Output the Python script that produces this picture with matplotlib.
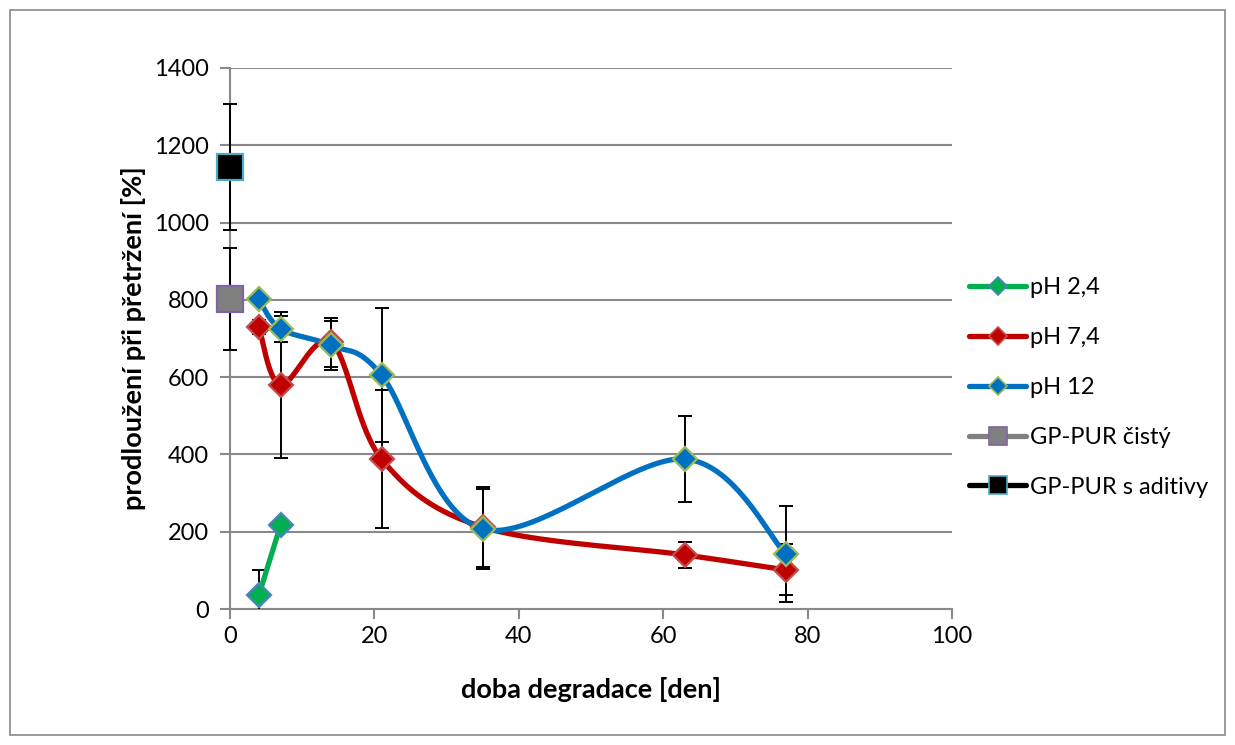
import numpy as np
import matplotlib
matplotlib.use("Agg")
import matplotlib.pyplot as plt
from matplotlib.lines import Line2D

plt.rcParams['font.family'] = ['Lato', 'DejaVu Sans']

# degradation time [days]
days_ph24 = [4, 7]
elong_ph24 = [36, 217]
err_ph24 = [65, 0]

days_ph74 = [4, 7, 14, 21, 35, 63, 77]
elong_ph74 = [730, 580, 690, 388, 212, 140, 101]
err_ph74 = [18, 189, 64, 178, 103, 33, 66]

days_ph12 = [4, 7, 14, 21, 35, 63, 77]
elong_ph12 = [802, 725, 682, 605, 207, 388, 142]
err_ph12 = [0, 34, 64, 174, 103, 111, 124]

pure_day = [0]
pure_val = [802]
pure_err = [133]

additive_day = [0]
additive_val = [1144]
additive_err = [163]

x_ticks = [0, 20, 40, 60, 80, 100]
y_ticks = [0, 200, 400, 600, 800, 1000, 1200, 1400]


def smooth(xs, ys, n=40):
    """Cubic Bezier smoothing through all points (Catmull-Rom style)."""
    p = np.column_stack([xs, ys]).astype(float)
    if len(p) < 3:
        return p[:, 0], p[:, 1]
    ext = np.vstack([p[0], p, p[-1]])
    out = []
    t = np.linspace(0, 1, n)[:, None]
    for i in range(len(p) - 1):
        p0, p1, p2, p3 = ext[i], ext[i + 1], ext[i + 2], ext[i + 3]
        c1 = p1 + (p2 - p0) / 6.0
        c2 = p2 - (p3 - p1) / 6.0
        seg = ((1 - t) ** 3) * p1 + 3 * ((1 - t) ** 2) * t * c1 + 3 * (1 - t) * t ** 2 * c2 + t ** 3 * p2
        out.append(seg if i == 0 else seg[1:])
    out = np.vstack(out)
    return out[:, 0], out[:, 1]


fig = plt.figure(figsize=(12.35, 7.45), dpi=100)
fig.patch.set_facecolor('white')
# outer chart border
fig.add_artist(plt.Rectangle((10 / 1235, 10 / 745), 1215 / 1235, 725 / 745,
                             transform=fig.transFigure, fill=False,
                             edgecolor='#898989', linewidth=1.2))

ax = fig.add_axes([230 / 1235, 1 - 609 / 745, 722 / 1235, 541 / 745])

grid_c = '#898989'
for y in y_ticks[1:]:
    ax.axhline(y, color=grid_c, linewidth=1.5, zorder=0)

ekw = dict(fmt='none', ecolor='black', elinewidth=1.4, capsize=5, capthick=1.4, zorder=2.7)
ax.errorbar(days_ph24, elong_ph24, yerr=err_ph24, **ekw)
ax.errorbar(days_ph74, elong_ph74, yerr=err_ph74, **ekw)
ax.errorbar(days_ph12, elong_ph12, yerr=err_ph12, **ekw)
for xs, ys, es in [(pure_day, pure_val, pure_err), (additive_day, additive_val, additive_err)]:
    eb = ax.errorbar(xs, ys, yerr=es, **ekw)
    for art in eb.lines[1] + eb.lines[2]:
        art.set_clip_on(False)

series = [
    (days_ph24, elong_ph24, '#00B050', '#00B050', '#4F81BD', 'D', 12.5, 'pH 2,4'),
    (days_ph74, elong_ph74, '#C00000', '#C00000', '#C0504D', 'D', 12.5, 'pH 7,4'),
    (days_ph12, elong_ph12, '#0070C0', '#0070C0', '#9BBB59', 'D', 12.5, 'pH 12'),
]
handles = []
for xs, ys, lc, fc, ec, mk, ms, lab in series:
    sx, sy = smooth(xs, ys)
    ax.plot(sx, sy, color=lc, linewidth=3.8, solid_capstyle='round', zorder=3)
    ax.plot(xs, ys, linestyle='none', marker=mk, markersize=ms, markerfacecolor=fc,
            markeredgecolor=ec, markeredgewidth=1.6, zorder=4)
    handles.append(Line2D([], [], color=lc, linewidth=3.8, marker=mk, markersize=9.5,
                          markerfacecolor=fc, markeredgecolor=ec, markeredgewidth=1.2,
                          solid_capstyle='round', label=lab))

ax.plot(pure_day, pure_val, linestyle='none', marker='s', markersize=19,
        markerfacecolor='#808080', markeredgecolor='#8064A2', markeredgewidth=1.6,
        zorder=5, clip_on=False)
ax.plot(additive_day, additive_val, linestyle='none', marker='s', markersize=19,
        markerfacecolor='black', markeredgecolor='#4BACC6', markeredgewidth=1.6,
        zorder=5, clip_on=False)
handles.append(Line2D([], [], color='#808080', linewidth=3.8, marker='s', markersize=13,
                      markerfacecolor='#808080', markeredgecolor='#8064A2',
                      markeredgewidth=1.2, solid_capstyle='round', label='GP-PUR čistý'))
handles.append(Line2D([], [], color='black', linewidth=3.8, marker='s', markersize=13,
                      markerfacecolor='black', markeredgecolor='#4BACC6',
                      markeredgewidth=1.2, solid_capstyle='round', label='GP-PUR s aditivy'))

ax.set_xlim(0, 100)
ax.set_ylim(0, 1400)
ax.set_xticks(x_ticks)
ax.set_yticks(y_ticks)
for s in ['top', 'right']:
    ax.spines[s].set_visible(False)
for s in ['left', 'bottom']:
    ax.spines[s].set_color(grid_c)
    ax.spines[s].set_linewidth(1.5)
ax.tick_params(axis='both', direction='out', colors=grid_c, labelcolor='black',
               labelsize=17, width=1.5)
ax.tick_params(axis='x', length=7, pad=5)
ax.tick_params(axis='y', length=7, pad=8)

ax.set_xlabel('doba degradace [den]', fontsize=19.5, fontweight='bold', labelpad=22)
ax.set_ylabel('prodloužení při přetržení [%]', fontsize=19.5, fontweight='bold', labelpad=6)

leg = fig.legend(handles=handles, loc='upper left', bbox_to_anchor=(960 / 1235, 1 - 268 / 745),
                 frameon=False, fontsize=17, handlelength=2.4, labelspacing=1.22,
                 handletextpad=0.15, borderaxespad=0)

fig.savefig('out.png', dpi=100, facecolor='white')
